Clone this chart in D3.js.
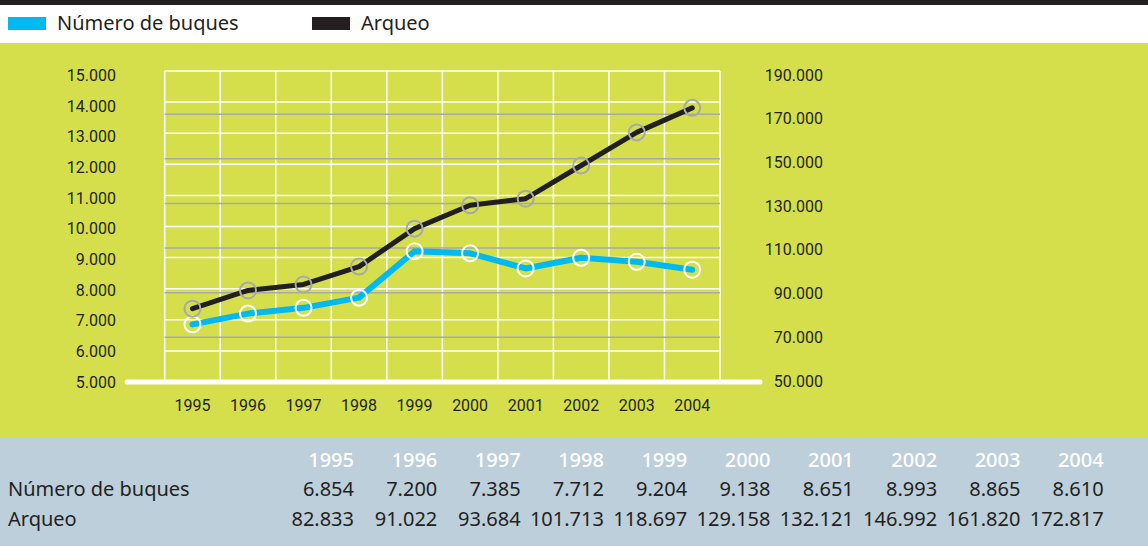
<!DOCTYPE html>
<html lang="es">
<head>
    <meta charset="UTF-8">
    <title>Número de buques y arqueo</title>
    <script src="https://d3js.org/d3.v7.min.js"></script>
    <style>
        body{
            margin: 0;
            overflow: hidden;
            background: #fff;
        }
        svg{
            display: block;
        }
        .axis text{
            font-family: Roboto, sans-serif;
            font-size: 16px;
            fill: #231f20;
        }
        .sans{
            font-family: "Noto Sans", sans-serif;
            font-size: 20px;
            fill: #231f20;
        }
    </style>
</head>
<body>
    <svg id="main" width="1148" height="546"></svg>
    <script>
        // datos de la tabla
        const years = [1995, 1996, 1997, 1998, 1999, 2000, 2001, 2002, 2003, 2004]
        const buques = [6854, 7200, 7385, 7712, 9204, 9138, 8651, 8993, 8865, 8610]
        const arqueo = [82833, 91022, 93684, 101713, 118697, 129158, 132121, 146992, 161820, 172817]
        const leftTicks = [5000, 6000, 7000, 8000, 9000, 10000, 11000, 12000, 13000, 14000, 15000]
        const rightTicks = [50000, 70000, 90000, 110000, 130000, 150000, 170000, 190000]
        const seriesNames = ["Número de buques", "Arqueo"]

        const es = d3.formatLocale({decimal: ",", thousands: ".", grouping: [3], currency: ["", " €"]})
        const fmt = es.format(",d")

        const green = "#d4df4b", cyan = "#00b9f0", dark = "#231f20", grey = "#a7a9ac"

        const svg = d3.select("#main")

        // fondos
        svg.append("rect").attr("x", 0).attr("y", 0).attr("width", 1148).attr("height", 5).attr("fill", dark)
        svg.append("rect").attr("x", 0).attr("y", 43).attr("width", 1148).attr("height", 395).attr("fill", green)
        svg.append("rect").attr("x", 0).attr("y", 438).attr("width", 1148).attr("height", 108).attr("fill", "#bdcfdb")

        // leyenda
        const legend = svg.append("g")
        const legX = [8, 312]
        legend.selectAll("rect").data(seriesNames).join("rect")
            .attr("x", (d, i) => legX[i]).attr("y", 17)
            .attr("width", 38).attr("height", 13)
            .attr("fill", (d, i) => i ? dark : cyan)
        legend.selectAll("text").data(seriesNames).join("text")
            .attr("class", "sans")
            .attr("x", (d, i) => legX[i] + 49).attr("y", 30)
            .text(d => d)

        // escalas
        const x = d3.scaleBand().domain(years).range([164.7, 720])
        const yL = d3.scaleLinear().domain([5000, 15000]).range([382, 71])
        const yR = d3.scaleLinear().domain([50000, 190000]).range([382, 69.5])
        // las etiquetas del original van algo más apretadas que la rejilla
        const yLlab = yL.copy().range([382, 75.5])
        const yRlab = yR.copy().range([381, 75])

        const grid = svg.append("g")
        const vx = years.map(d => x(d)).concat([x.range()[1]])
        grid.selectAll(".v").data(vx).join("line")
            .attr("x1", d => d).attr("x2", d => d)
            .attr("y1", yL(15000)).attr("y2", yL(5000))
            .attr("stroke", "#fff").attr("stroke-width", 1.5)
        grid.selectAll(".h").data(leftTicks.slice(1)).join("line")
            .attr("x1", x.range()[0]).attr("x2", x.range()[1])
            .attr("y1", d => yL(d)).attr("y2", d => yL(d))
            .attr("stroke", "#fff").attr("stroke-width", 1.5)
        grid.selectAll(".g").data(rightTicks.slice(1, -1)).join("line")
            .attr("x1", x.range()[0]).attr("x2", x.range()[1])
            .attr("y1", d => yR(d)).attr("y2", d => yR(d))
            .attr("stroke", grey).attr("stroke-width", 1.5)

        // linea base
        svg.append("line")
            .attr("x1", 127).attr("x2", 760)
            .attr("y1", yL(5000)).attr("y2", yL(5000))
            .attr("stroke", "#fff").attr("stroke-width", 5).attr("stroke-linecap", "round")

        // ejes
        svg.append("g").attr("class", "axis")
            .attr("transform", "translate(124,0)")
            .call(d3.axisLeft(yLlab).tickValues(leftTicks).tickFormat(fmt).tickSize(0).tickPadding(8))
            .call(g => g.select(".domain").remove())
        svg.append("g").attr("class", "axis")
            .attr("transform", "translate(823,0)")
            .call(d3.axisRight(yRlab).tickValues(rightTicks).tickFormat(fmt).tickSize(0).tickPadding(0))
            .call(g => g.select(".domain").remove())
            .selectAll("text").attr("text-anchor", "end").attr("x", 0)
        svg.append("g").attr("class", "axis")
            .attr("transform", "translate(0,396)")
            .call(d3.axisBottom(x).tickSize(0).tickPadding(4))
            .call(g => g.select(".domain").remove())
            .selectAll("text").attr("dy", "0.71em")

        // series
        const cx = d => x(d) + x.bandwidth() / 2
        const series = [
            {vals: buques, y: yL, color: cyan, ring: "#fff", w: 6},
            {vals: arqueo, y: yR, color: dark, ring: grey, w: 5}
        ]
        series.forEach(s => {
            const line = d3.line().x((d, i) => cx(years[i])).y(d => s.y(d))
            svg.append("path")
                .attr("d", line(s.vals))
                .attr("fill", "none").attr("stroke", s.color)
                .attr("stroke-width", s.w)
                .attr("stroke-linejoin", "round").attr("stroke-linecap", "round")
            svg.append("g").selectAll("circle").data(s.vals).join("circle")
                .attr("cx", (d, i) => cx(years[i])).attr("cy", d => s.y(d))
                .attr("r", 8).attr("fill", "none")
                .attr("stroke", s.ring).attr("stroke-width", 2)
        })

        // tabla
        const tx = i => 354 + 83.3 * i
        const table = svg.append("g")
        table.selectAll(".yr").data(years).join("text")
            .attr("class", "sans")
            .attr("x", (d, i) => tx(i)).attr("y", 467)
            .attr("text-anchor", "end").style("fill", "#fff")
            .style("font-weight", 500)
            .text(d => d)
        const rows = [buques, arqueo]
        rows.forEach((r, j) => {
            const ry = 496 + j * 30
            table.append("text").attr("class", "sans")
                .attr("x", 8).attr("y", ry).text(seriesNames[j])
            table.append("g").selectAll("text").data(r).join("text")
                .attr("class", "sans")
                .attr("x", (d, i) => tx(i)).attr("y", ry)
                .attr("text-anchor", "end")
                .text(d => fmt(d))
        })
    </script>
</body>
</html>
